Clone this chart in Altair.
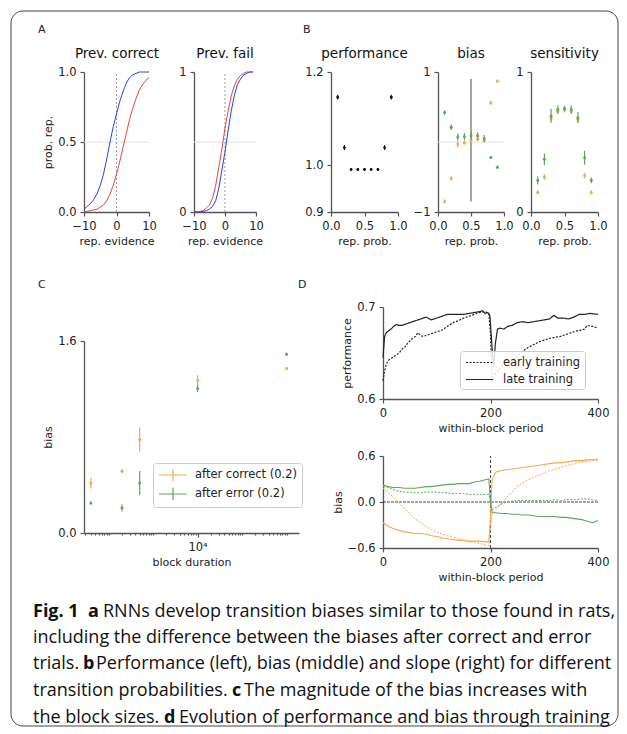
import altair as alt
import pandas as pd

FONT = "DejaVu Sans"
CAP_FONT = "Open Sans"
ORANGE = "#f4a94c"
GREEN = "#5ea65e"
BLUE = "#2e3df0"
RED = "#e8453a"
AX = "#555555"
TXT = "#222222"

# ---------------- Panel A data ----------------
ev_corr = list(range(-10, 11))
a_corr_blue = [0.02, 0.04, 0.06, 0.09, 0.13, 0.19, 0.27, 0.38, 0.50, 0.61, 0.70,
               0.79, 0.86, 0.92, 0.96, 0.98, 0.99, 1.0, 1.0, 1.0, 1.0]
a_corr_red = [0.0, 0.005, 0.01, 0.015, 0.02, 0.035, 0.05, 0.08, 0.13, 0.19, 0.27,
              0.36, 0.46, 0.56, 0.66, 0.74, 0.81, 0.87, 0.91, 0.94, 0.96]
ev_fail = list(range(-10, 10))
a_fail_red = [0.0, 0.0, 0.005, 0.01, 0.03, 0.05, 0.10, 0.19, 0.32, 0.45, 0.60,
              0.72, 0.83, 0.90, 0.95, 0.975, 0.99, 1.0, 1.0, 1.0]
a_fail_blue = [0.0, 0.0, 0.0, 0.005, 0.01, 0.02, 0.04, 0.08, 0.17, 0.30, 0.43,
               0.58, 0.72, 0.83, 0.91, 0.95, 0.98, 0.99, 1.0, 1.0]

# ---------------- Panel B data ----------------
rep_prob = [0.1, 0.2, 0.3, 0.4, 0.5, 0.6, 0.7, 0.8, 0.9]
perf = [1.146, 1.038, 0.991, 0.991, 0.991, 0.991, 0.991, 1.038, 1.146]
perf_err = [0.005, 0.005, 0.003, 0.003, 0.003, 0.003, 0.003, 0.005, 0.005]
bias_err_trial = [0.42, 0.21, 0.07, 0.08, 0.09, 0.09, 0.05, -0.22, -0.36]
bias_err_trial_sd = [0.03, 0.04, 0.05, 0.05, 0.06, 0.05, 0.05, 0.02, 0.02]
bias_corr_trial = [-0.85, -0.52, -0.03, -0.01, 0.02, 0.04, 0.02, 0.56, 0.87]
bias_corr_trial_sd = [0.03, 0.03, 0.04, 0.03, 0.03, 0.03, 0.03, 0.03, 0.02]
sens_err_trial = [0.226, 0.376, 0.686, 0.733, 0.74, 0.733, 0.674, 0.388, 0.226]
sens_err_trial_sd = [0.03, 0.04, 0.05, 0.03, 0.02, 0.03, 0.04, 0.05, 0.02]
sens_corr_trial = [0.14, 0.25, 0.67, 0.72, 0.73, 0.72, 0.66, 0.26, 0.14]
sens_corr_trial_sd = [0.015, 0.02, 0.02, 0.02, 0.02, 0.02, 0.02, 0.02, 0.015]

# ---------------- Panel C data ----------------
block_dur = [40, 200, 500, 10000, 1000000]
c_after_correct = [0.415, 0.515, 0.78, 1.27, 1.37]
c_after_correct_err = [0.045, 0.02, 0.1, 0.045, 0.012]
c_after_error = [0.25, 0.21, 0.417, 1.205, 1.49]
c_after_error_err = [0.012, 0.03, 0.1, 0.03, 0.012]

# ---------------- Panel D data ----------------
d_late_x = [0, 3, 6, 10, 15, 20, 25, 30, 35, 40, 50, 60, 70, 80, 90, 100, 110, 120, 130,
            140, 150, 160, 170, 180, 185, 190, 195, 199, 203, 206, 209, 213, 218, 225,
            232, 240, 250, 260, 270, 280, 290, 300, 310, 318, 325, 335, 345, 355, 365,
            375, 385, 400]
d_late_y = [0.645, 0.668, 0.672, 0.674, 0.676, 0.679, 0.681, 0.680, 0.680, 0.681, 0.683,
            0.685, 0.687, 0.689, 0.686, 0.688, 0.690, 0.692, 0.692, 0.692, 0.692, 0.693,
            0.694, 0.695, 0.696, 0.693, 0.694, 0.690, 0.655, 0.635, 0.660, 0.676, 0.677,
            0.676, 0.679, 0.680, 0.683, 0.684, 0.683, 0.684, 0.685, 0.686, 0.687, 0.691,
            0.688, 0.688, 0.687, 0.689, 0.692, 0.692, 0.693, 0.692]
d_early_x = [0, 3, 6, 10, 15, 20, 25, 30, 35, 40, 45, 50, 55, 60, 65, 70, 75, 80, 90, 100,
             110, 120, 130, 140, 150, 160, 170, 180, 190, 197, 200, 203, 210, 220, 230,
             240, 250, 260, 270, 280, 290, 300, 310, 320, 330, 340, 350, 360, 370, 375,
             380, 390, 400]
d_early_y = [0.620, 0.630, 0.638, 0.642, 0.644, 0.646, 0.648, 0.650, 0.654, 0.656, 0.660,
             0.663, 0.666, 0.668, 0.672, 0.669, 0.668, 0.669, 0.671, 0.673, 0.675, 0.679,
             0.683, 0.685, 0.688, 0.690, 0.692, 0.694, 0.695, 0.693, 0.670, 0.620, 0.628,
             0.635, 0.638, 0.642, 0.647, 0.652, 0.656, 0.659, 0.662, 0.664, 0.666, 0.667,
             0.668, 0.670, 0.672, 0.674, 0.675, 0.676, 0.680, 0.679, 0.677]

d_bx = [0, 10, 20, 30, 40, 50, 60, 70, 80, 90, 100, 110, 120, 130, 140, 150, 160, 170,
        180, 190, 197, 200, 203, 210, 220, 230, 240, 250, 260, 270, 280, 290, 300, 310,
        320, 330, 340, 350, 360, 370, 380, 390, 400]
d_green_late = [0.22, 0.20, 0.19, 0.19, 0.18, 0.18, 0.18, 0.19, 0.20, 0.20, 0.21, 0.22,
                0.23, 0.23, 0.24, 0.24, 0.24, 0.26, 0.27, 0.29, 0.30, 0.0, -0.14, -0.14,
                -0.15, -0.15, -0.16, -0.16, -0.17, -0.17, -0.18, -0.19, -0.19, -0.19,
                -0.19, -0.20, -0.20, -0.21, -0.22, -0.23, -0.25, -0.27, -0.24]
d_green_early = [0.20, 0.19, 0.16, 0.14, 0.13, 0.13, 0.12, 0.12, 0.13, 0.13, 0.13, 0.12,
                 0.12, 0.11, 0.11, 0.11, 0.10, 0.10, 0.10, 0.10, 0.10, 0.0, -0.10, -0.07,
                 -0.03, 0.0, 0.01, 0.02, 0.02, 0.02, 0.02, 0.02, 0.02, 0.02, 0.03, 0.02,
                 0.03, 0.03, 0.03, 0.04, 0.04, 0.03, 0.02]
d_orange_late = [-0.27, -0.32, -0.35, -0.37, -0.39, -0.40, -0.41, -0.41, -0.42, -0.44,
                 -0.45, -0.47, -0.48, -0.49, -0.50, -0.50, -0.51, -0.51, -0.51, -0.52,
                 -0.52, -0.20, 0.30, 0.39, 0.41, 0.42, 0.43, 0.44, 0.45, 0.46, 0.47, 0.48,
                 0.49, 0.50, 0.51, 0.51, 0.52, 0.53, 0.54, 0.54, 0.55, 0.55, 0.56]
d_orange_early = [0.18, 0.12, 0.06, -0.01, -0.08, -0.15, -0.22, -0.27, -0.32, -0.36,
                  -0.39, -0.42, -0.44, -0.46, -0.48, -0.50, -0.52, -0.53, -0.54, -0.56,
                  -0.57, -0.30, -0.15, -0.10, -0.02, 0.06, 0.13, 0.20, 0.25, 0.29, 0.32,
                  0.35, 0.38, 0.41, 0.43, 0.45, 0.47, 0.49, 0.51, 0.52, 0.53, 0.54, 0.54]

one = pd.DataFrame({"d": [0]})

# One plot area for the whole figure; each panel has its own pixel range.
W, H = 514, 476


def xenc(domain, rng, off, vals, title, fmt, scale_type="linear", field="x", **kw):
    if scale_type == "linear":
        sc = alt.Scale(domain=domain, range=rng, nice=False, zero=False)
    else:
        sc = alt.Scale(type=scale_type, domain=domain, range=rng, nice=False)
    if fmt is not None:
        ax = alt.Axis(values=vals, title=title, format=fmt, orient="bottom", offset=off, **kw)
    else:
        ax = alt.Axis(values=vals, title=title, orient="bottom", offset=off, **kw)
    return alt.X(f"{field}:Q", scale=sc, axis=ax)


class YSpec:
    def __init__(self, domain, rng, off, vals, title, fmt):
        self.args = (domain, rng, off, vals, title, fmt)

    def enc(self, field="y"):
        domain, rng, off, vals, title, fmt = self.args
        return alt.Y(f"{field}:Q",
                     scale=alt.Scale(domain=domain, range=rng, nice=False, zero=False),
                     axis=alt.Axis(values=vals, title=title, format=fmt, orient="left",
                                   offset=off))


def xy_df(xs, ys):
    return pd.DataFrame({"x": xs, "y": ys})


def line(xs, ys, X, Y, color, width=1.0, dash=None):
    kw = dict(color=color, strokeWidth=width)
    if dash is not None:
        kw["strokeDash"] = dash
    return alt.Chart(xy_df(xs, ys)).mark_line(**kw).encode(x=X, y=Y.enc())


def seg(X, Y, x1, x2, y1, y2, color, width=1.0, dash=None):
    kw = dict(color=color, strokeWidth=width)
    if dash is not None:
        kw["strokeDash"] = dash
    df = pd.DataFrame({"x": [x1], "x2": [x2], "y": [y1], "y2": [y2]})
    return alt.Chart(df).mark_rule(**kw).encode(x=X, x2="x2:Q", y=Y.enc(), y2="y2:Q")


def txt(s, x, y, size, weight="normal", font=FONT, color=TXT, align="left"):
    return alt.Chart(one).mark_text(text=s, font=font, fontSize=size, fontWeight=weight,
                                    color=color, align=align, baseline="alphabetic").encode(
        x=alt.value(x), y=alt.value(y))


def err_points(xs, ys, sd, color, X, Y, size=9, ew=1.2):
    df = pd.DataFrame({"x": xs, "y": ys, "lo": [a - b for a, b in zip(ys, sd)],
                       "hi": [a + b for a, b in zip(ys, sd)]})
    base = alt.Chart(df)
    bars = base.mark_rule(color=color, strokeWidth=ew).encode(x=X, y=Y.enc("lo"), y2="hi:Q")
    pts = base.mark_circle(color=color, size=size, opacity=1).encode(x=X, y=Y.enc())
    return [bars, pts]


# ---------------- Panel A ----------------
def panel_a(xs, blue, red, x0, x1, yvals, yfmt, ytitle):
    X = xenc([-10, 10], [x0, x1], 140 - H, [-10, 0, 10], "rep. evidence", "d")
    Y = YSpec([0, 1], [140, 0], -x0, yvals, ytitle, yfmt)
    return alt.layer(
        seg(X, Y, -10, 10, 0.5, 0.5, "#e3e3e3"),
        seg(X, Y, 0, 0, 0, 1, "#999999", 1.0, [2, 2]),
        line(xs, red, X, Y, RED),
        line(xs, blue, X, Y, BLUE),
    )


A1 = panel_a(ev_corr, a_corr_blue, a_corr_red, 0, 65, [0, 0.5, 1], ".1f", "prob. rep.")
A2 = panel_a(ev_fail, a_fail_blue, a_fail_red, 110, 172, [0, 1], "d", None)


# ---------------- Panel B ----------------
def b_x(x0, x1):
    return xenc([0, 1], [x0, x1], 140 - H, [0, 0.5, 1], "rep. prob.", ".1f")


Xb1 = b_x(247, 314)
Yb1 = YSpec([0.9, 1.2], [140, 0], -247, [0.9, 1.0, 1.2], None, ".1f")
B1 = alt.layer(*err_points(rep_prob, perf, perf_err, "#111111", Xb1, Yb1, size=8))

Xb2 = b_x(354, 420)
Yb2 = YSpec([-1, 1], [140, 0], -354, [-1, 0, 1], None, "d")
B2 = alt.layer(
    seg(Xb2, Yb2, 0, 1, 0, 0, "#e5e5e5"),
    seg(Xb2, Yb2, 0.5, 0.5, -0.85, 0.9, "#333333", 0.9),
    *err_points(rep_prob, bias_corr_trial, bias_corr_trial_sd, ORANGE, Xb2, Yb2),
    *err_points(rep_prob, bias_err_trial, bias_err_trial_sd, GREEN, Xb2, Yb2),
)

Xb3 = b_x(447, 514)
Yb3 = YSpec([0, 1], [140, 0], -447, [0, 1], None, "d")
B3 = alt.layer(
    *err_points(rep_prob, sens_corr_trial, sens_corr_trial_sd, ORANGE, Xb3, Yb3),
    *err_points(rep_prob, sens_err_trial, sens_err_trial_sd, GREEN, Xb3, Yb3),
)

# ---------------- Panel C ----------------
c_minor = [k * 10 ** d for d in range(1, 7) for k in range(1, 10)]
c_minor = [v for v in c_minor if 28 <= v <= 1900000]
Xc = xenc([28, 1900000], [0, 215], 461 - H, c_minor, "block duration", None, scale_type="log",
          labelExpr="datum.value == 10000 ? '10⁴' : ''",
          tickSize={"condition": {"test": "datum.value == 10000", "value": 4}, "value": 2})
Yc = YSpec([0, 1.6], [461, 269], 0, [0, 1.6], "bias", ".1f")

c_groups = ["after correct (0.2)", "after error (0.2)"]
c_df = pd.DataFrame({
    "x": block_dur * 2,
    "y": c_after_correct + c_after_error,
    "lo": [a - b for a, b in zip(c_after_correct, c_after_correct_err)] +
          [a - b for a, b in zip(c_after_error, c_after_error_err)],
    "hi": [a + b for a, b in zip(c_after_correct, c_after_correct_err)] +
          [a + b for a, b in zip(c_after_error, c_after_error_err)],
    "g": [c_groups[0]] * 5 + [c_groups[1]] * 5,
})
c_bars = alt.Chart(c_df).mark_rule(strokeWidth=1.2).encode(
    x=Xc, y=Yc.enc("lo"), y2="hi:Q",
    color=alt.Color("g:N", scale=alt.Scale(domain=c_groups, range=[ORANGE, GREEN]),
                    legend=alt.Legend(title=None, orient="none", legendX=69, legendY=391,
                                      symbolType="M-2,0H2M0,-0.9V0.9", symbolSize=196,
                                      symbolStrokeWidth=1.2, symbolOffset=8,
                                      labelFont=FONT, labelFontSize=11.5, labelColor=TXT,
                                      strokeColor="#cccccc", fillColor="white",
                                      padding=4, cornerRadius=3, rowPadding=1,
                                      labelOffset=14)))
c_pts = [alt.Chart(c_df[c_df.g == g]).mark_circle(color=col, size=9, opacity=1).encode(
    x=Xc, y=Yc.enc()) for g, col in zip(c_groups, [ORANGE, GREEN])]
C = alt.layer(c_bars, *c_pts)

# ---------------- Panel D ----------------
Xd1 = xenc([0, 400], [299, 514], 327 - H, [0, 200, 400], "within-block period", "d")
Yd1 = YSpec([0.6, 0.7], [327, 235], -299, [0.6, 0.7], "performance", ".1f")
train = ["early training", "late training"]
d1_df = pd.DataFrame({"x": d_early_x + d_late_x, "y": d_early_y + d_late_y,
                      "t": [train[0]] * len(d_early_x) + [train[1]] * len(d_late_x)})
D1 = alt.Chart(d1_df).mark_line(color="#222222", strokeWidth=1.2).encode(
    x=Xd1, y=Yd1.enc(),
    strokeDash=alt.StrokeDash("t:N", scale=alt.Scale(domain=train, range=[[2, 1.5], [1, 0]]),
                              legend=alt.Legend(title=None, orient="none", legendX=376,
                                                legendY=279, symbolType="M-2,0H2",
                                                symbolSize=182, symbolStrokeColor="#222222",
                                                symbolStrokeWidth=1.2, symbolOffset=8,
                                                labelFont=FONT, labelFontSize=11.5,
                                                labelColor=TXT, strokeColor="#cccccc",
                                                fillColor="rgba(255,255,255,0.85)",
                                                padding=4, cornerRadius=3, rowPadding=4,
                                                labelOffset=16)))

Xd2 = xenc([0, 400], [299, 514], 0, [0, 200, 400], "within-block period", "d")
Yd2 = YSpec([-0.6, 0.6], [476, 384], -299, [-0.6, 0, 0.6], "bias", ".1f")
D2 = alt.layer(
    seg(Xd2, Yd2, 0, 400, 0, 0, "#333333", 0.9, [3, 1]),
    seg(Xd2, Yd2, 200, 200, -0.6, 0.6, "#333333", 0.9, [3, 2]),
    line(d_bx, d_orange_early, Xd2, Yd2, ORANGE, 1.0, [2, 1.5]),
    line(d_bx, d_green_early, Xd2, Yd2, GREEN, 1.0, [2, 1.5]),
    line(d_bx, d_orange_late, Xd2, Yd2, ORANGE, 1.1),
    line(d_bx, d_green_late, Xd2, Yd2, GREEN, 1.1),
)

# ---------------- Texts: titles, panel letters, border, caption ----------------
CAPS = 18.0
CC = "#111111"
deco = [
    alt.Chart(one).mark_rect(fill="transparent", stroke="#444444", strokeWidth=1,
                             cornerRadius=12).encode(
        x=alt.value(-73), x2=alt.value(534), y=alt.value(-61), y2=alt.value(654)),
    txt("Prev. correct", 33, -14, 13.5, align="center", color=CC),
    txt("Prev. fail", 141, -14, 13.5, align="center", color=CC),
    txt("performance", 280.5, -14, 13.5, align="center", color=CC),
    txt("bias", 387, -14, 13.5, align="center", color=CC),
    txt("sensitivity", 480.5, -14, 13.5, align="center", color=CC),
    txt("A", -46, -39, 11),
    txt("B", 219, -39, 11),
    txt("C", -46, 216, 11),
    txt("D", 214, 216, 11),
    txt("Fig. 1", -51, 545, CAPS, "bold", CAP_FONT, CC),
    txt("a", 4, 545, CAPS, "bold", CAP_FONT, CC),
    txt("RNNs develop transition biases similar to those found in rats,", 19, 545, CAPS,
        "normal", CAP_FONT, CC),
    txt("including the difference between the biases after correct and error", -51, 571,
        CAPS, "normal", CAP_FONT, CC),
    txt("trials.", -51, 597, CAPS, "normal", CAP_FONT, CC),
    txt("b", -1, 597, CAPS, "bold", CAP_FONT, CC),
    txt("Performance (left), bias (middle) and slope (right) for different", 12, 597, CAPS,
        "normal", CAP_FONT, CC),
    txt("transition probabilities.", -51, 624, CAPS, "normal", CAP_FONT, CC),
    txt("c", 148, 624, CAPS, "bold", CAP_FONT, CC),
    txt("The magnitude of the bias increases with", 160, 624, CAPS, "normal", CAP_FONT, CC),
    txt("the block sizes.", -51, 651, CAPS, "normal", CAP_FONT, CC),
    txt("d", 80, 651, CAPS, "bold", CAP_FONT, CC),
    txt("Evolution of performance and bias through training", 95, 651, CAPS, "normal",
        CAP_FONT, CC),
]

chart = alt.layer(A1, A2, B1, B2, B3, C, D1, D2, *deco).resolve_scale(
    x="independent", y="independent", color="independent", strokeDash="independent"
).resolve_axis(x="independent", y="independent").resolve_legend(
    color="independent", strokeDash="independent"
).properties(
    width=W, height=H, padding={"left": 2, "top": 2, "right": 0, "bottom": 0}
).configure_axis(
    domainColor=AX, domainWidth=1.3, tickColor=AX, tickWidth=1.2, tickSize=4,
    labelFont=FONT, labelFontSize=11.5, labelColor=TXT, labelPadding=4,
    titleFont=FONT, titleFontSize=11, titleFontWeight="normal", titleColor=TXT,
    grid=False, labelFlush=False, labelOverlap=False
).configure_view(stroke=None)

chart.save("out.html", embed_options={"renderer": "svg", "actions": False})
